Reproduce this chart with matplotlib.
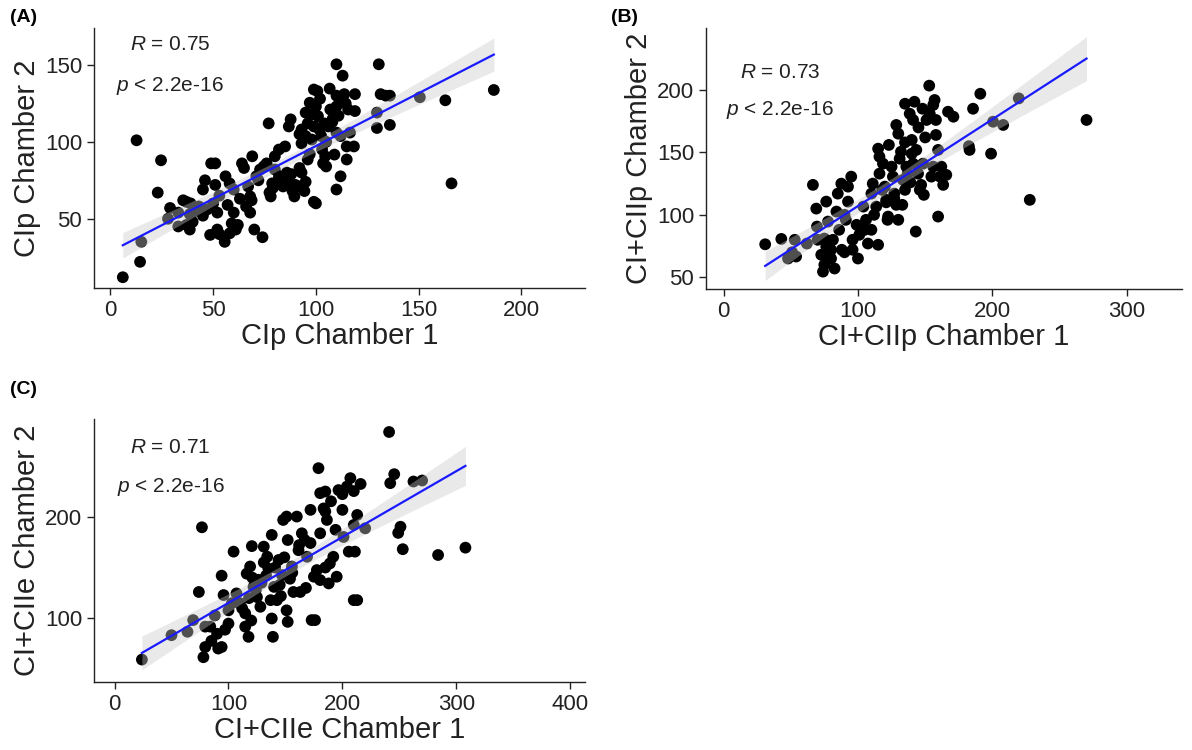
import numpy as np
import matplotlib
matplotlib.use("Agg")
import matplotlib.pyplot as plt

plt.rcParams['font.family'] = ['Liberation Sans', 'DejaVu Sans']
plt.rcParams['mathtext.fontset'] = 'custom'
plt.rcParams['mathtext.rm'] = 'Liberation Sans'
plt.rcParams['mathtext.it'] = 'Liberation Sans:italic'

# panel A: CIp chamber 1 vs chamber 2
a_x = [6, 14.4, 15, 12.7, 24.6, 23, 29, 28, 33, 35.4, 37, 39, 37, 38.6, 38.6, 46, 45, 49, 51,
       48.5, 52, 51, 52, 53, 56, 55.6, 58, 59, 60, 61, 58, 60, 64, 65, 67, 68, 69, 68.7, 68, 70,
       74, 71, 72.8, 74.6, 77, 76, 78.7, 77.4, 80, 82, 85, 80, 82, 84, 78, 86.8, 87.7, 85.8,
       86.8, 88.6, 89.5, 91.4, 93, 95, 94.4, 96, 93, 95, 93, 95, 97, 99, 100.7, 100, 101, 99,
       101.7, 102.6, 98, 104.5, 103.5, 105, 100, 99, 106.7, 110, 113, 110, 112, 113.8, 114.5,
       110, 115.7, 108, 106, 110, 112, 109, 115, 115, 118.5, 112, 110, 119, 119, 116.6, 130.6,
       131.5, 134, 136, 129.7, 129.7, 136, 150.6, 163, 166, 186.6, 50, 43, 41, 83, 88, 90, 92,
       97, 103, 105, 108, 63, 66, 72, 79, 57, 47,
       98, 102, 104, 107, 111, 96, 92, 40, 45, 53, 62, 33]
a_y = [12, 22, 35, 101, 88, 67, 57, 50, 54, 62, 61, 60, 46, 43, 53, 75, 69, 86, 86, 39.5, 43,
       72, 54, 65, 77.6, 35, 40.5, 47, 54, 43, 73, 69, 86, 83, 71, 64.5, 90.6, 62, 54, 43, 38,
       77.6, 82, 84, 112, 86, 73, 67, 90.6, 95, 97, 82, 77.6, 71, 64.5, 110, 114.6, 80, 74, 68,
       64.5, 71, 80, 74, 68, 88.5, 99, 103.7, 108, 119, 125.4, 134, 133, 123, 116.7, 110, 108,
       103.7, 101.5, 90.6, 86, 84, 60, 61, 134.6, 150.4, 143, 130, 127.6, 131, 125, 123, 121,
       114.6, 110, 106, 103.7, 91.7, 97, 88.5, 97, 77.6, 69, 131, 120, 106, 150.4, 131, 130,
       130, 119, 109, 111, 129, 127, 73, 133.7, 60, 58, 55, 76, 79, 72, 83, 92, 95, 100, 113,
       63, 58, 75, 70, 59, 56,
       118, 128, 112, 121, 117, 112, 105, 48, 52, 40, 46, 45]

# panel B: CI+CIIp chamber 1 vs chamber 2
b_x = [31, 43, 48, 53, 54, 51, 62, 66.5, 69, 69.5, 72.7, 74, 76.4, 77.7, 75, 76.4, 80, 82.6,
       81.4, 84, 85, 87.6, 86, 91, 92.6, 95, 92.6, 96, 100, 96, 101, 104, 106, 107.4, 111, 110,
       113.6, 115, 116, 115, 116, 118.6, 120, 121, 122.4, 123, 125, 126, 127, 128.5, 130,
       128.5, 130, 131, 132, 133.5, 135, 136, 137, 135, 138.5, 141, 142, 140, 141, 143.4,
       144.7, 143, 146, 148.4, 151, 153, 153.4, 156, 157, 158, 158, 159.6, 159.6, 156, 154.6,
       161, 163.4, 162, 165.7, 167, 171, 183, 182.5, 185.6, 191, 199, 200.5, 208, 219.6, 227.8,
       270, 149, 133, 122, 112, 105, 90, 99, 118, 127, 139, 147, 110, 88, 101, 121,
       140, 145, 150, 135, 148, 75, 80, 70, 90]
b_y = [76.4, 80.7, 65, 80, 66.6, 70, 77, 124, 105, 90.6, 68, 54.5, 110.6, 94.6, 81, 74.6, 65,
       57, 80, 102.6, 117, 125, 88, 96, 110.6, 130.6, 122.6, 80, 65, 72, 90.6, 106.6, 96, 77,
       125, 117, 106.6, 76, 133, 153, 146.6, 141, 122.6, 112, 98.6, 156, 138.6, 130.6, 117,
       108, 96, 172, 165, 145, 150.6, 128, 120, 138.6, 133, 189, 181, 176, 190.6, 149, 141,
       152, 133, 86.6, 120, 141, 176, 203.5, 181, 188, 192, 176, 164, 152, 98.6, 138.6, 130.6,
       130.6, 124, 138.6, 132, 182.6, 178.6, 152, 155, 185, 197, 149, 174.6, 172, 193.3, 112,
       176, 116, 108, 96, 100, 88, 100, 92, 120, 113, 126, 124, 88, 72, 84, 110,
       160, 170, 162, 158, 185, 60, 72, 80, 70]

# panel C: CI+CIIe chamber 1 vs chamber 2
c_x = [24, 50, 64, 69, 74, 76.7, 78, 79.6, 79.6, 84, 88, 91, 94, 94, 95.7, 97, 100, 104.5, 107,
       110, 114.7, 114.7, 117.6, 116, 119, 120.5, 122, 125, 126, 128, 131, 134, 135, 138, 138,
       139, 140, 142.5, 144, 147, 148, 151, 152, 151, 152, 154, 155.7, 157, 160, 161.5, 163,
       164.4, 167, 169, 172, 172, 173, 176, 175, 177.6, 179, 180.5, 180.5, 180.5, 183.5, 185,
       186.4, 188, 189, 192, 194, 195, 196.6, 200, 201, 204, 207, 205.6, 210, 211, 213, 210,
       213, 216, 220, 241, 242, 245.5, 251, 249, 253, 262.4, 270, 284, 308, 118, 124, 129,
       133, 137, 141, 145, 149, 156, 162, 168, 112, 121, 103, 185, 131, 146,
       190, 200, 185, 210, 100, 90, 120, 85]
c_y = [59.7, 83.6, 87, 98.4, 126, 189.5, 62, 72, 92, 92, 103, 70.5, 72, 142, 123, 89, 108,
       165.6, 124.6, 115, 105, 92, 82, 144, 151, 171, 131, 121, 138, 111.5, 170.5, 160.6, 149,
       182, 100, 82, 131, 118, 157.4, 142.6, 196.7, 200, 177, 108, 96.7, 139, 151, 126, 200,
       167, 126, 183.6, 177, 160.6, 174, 206.6, 98.4, 98.4, 141, 147.5, 247.5, 223, 183.6,
       137.7, 208, 224.6, 196.7, 134.4, 154, 160.6, 187, 141, 226, 206.6, 180, 229.5, 237.7,
       165.6, 191.8, 165.6, 201.6, 118, 118, 232, 188.5, 283, 232.8, 241.6, 190, 184, 168,
       234.4, 235.4, 162.3, 169.5, 120, 128, 135, 142, 118, 150, 133, 160, 145, 172, 130, 110,
       140, 115, 150, 155, 122,
       215, 222, 205, 225, 95, 85, 98, 78]

panels = [
    dict(tag="(A)", x=a_x, y=a_y, r="0.75", xlabel="CIp Chamber 1", ylabel="CIp Chamber 2",
         rect=[0.0789, 0.616, 0.4119, 0.3467], xlim=(-8, 231), ylim=(5, 174),
         xticks=[0, 50, 100, 150, 200], yticks=[50, 100, 150],
         rpos=(0.073, 0.935), ppos=(0.045, 0.777), tagpos=(0.008, 0.976)),
    dict(tag="(B)", x=b_x, y=b_y, r="0.73", xlabel="CI+CIIp Chamber 1", ylabel="CI+CIIp Chamber 2",
         rect=[0.5923, 0.6147, 0.3993, 0.348], xlim=(-13, 341), ylim=(40.6, 249.7),
         xticks=[0, 100, 200, 300], yticks=[50, 100, 150, 200],
         rpos=(0.071, 0.828), ppos=(0.042, 0.686), tagpos=(0.513, 0.976)),
    dict(tag="(C)", x=c_x, y=c_y, r="0.71", xlabel="CI+CIIe Chamber 1", ylabel="CI+CIIe Chamber 2",
         rect=[0.0789, 0.0907, 0.4119, 0.3507], xlim=(-18, 413), ylim=(37.7, 295.8),
         xticks=[0, 100, 200, 300, 400], yticks=[100, 200],
         rpos=(0.073, 0.89), ppos=(0.047, 0.741), tagpos=(0.008, 0.48)),
]

fig = plt.figure(figsize=(11.92, 7.5), dpi=100)

for p in panels:
    ax = fig.add_axes(p["rect"])
    x = np.array(p["x"], dtype=float)
    y = np.array(p["y"], dtype=float)

    ax.scatter(x, y, s=72, color='black', edgecolors='none', zorder=2)

    # linear fit with 95% confidence band
    slope, icpt = np.polyfit(x, y, 1)
    n = len(x)
    resid = y - (slope * x + icpt)
    s_err = np.sqrt(np.sum(resid ** 2) / (n - 2))
    xs = np.linspace(x.min(), x.max(), 200)
    ys = slope * xs + icpt
    se = s_err * np.sqrt(1 / n + (xs - x.mean()) ** 2 / np.sum((x - x.mean()) ** 2))
    ax.fill_between(xs, ys - 1.98 * se, ys + 1.98 * se, color='#c8c8c8', alpha=0.4,
                    linewidth=0, zorder=3)
    ax.plot(xs, ys, color='#1a1aff', linewidth=1.6, zorder=4)

    ax.set_xlim(*p["xlim"])
    ax.set_ylim(*p["ylim"])
    ax.set_xticks(p["xticks"])
    ax.set_yticks(p["yticks"])
    ax.spines['top'].set_visible(False)
    ax.spines['right'].set_visible(False)
    for sp in ['left', 'bottom']:
        ax.spines[sp].set_linewidth(1.0)
        ax.spines[sp].set_color('#222222')
    ax.tick_params(labelsize=16, length=5, width=1, color='#222222', labelcolor='#222222')
    ax.set_xlabel(p["xlabel"], fontsize=21, color='#222222', labelpad=1)
    ax.set_ylabel(p["ylabel"], fontsize=21, color='#222222', labelpad=3)

    ax.text(p["rpos"][0], p["rpos"][1], "$R$ = " + p["r"], transform=ax.transAxes,
            fontsize=15, ha='left', va='center', color='#222222')
    ax.text(p["ppos"][0], p["ppos"][1], "$p$ < 2.2e-16", transform=ax.transAxes,
            fontsize=15, ha='left', va='center', color='#222222')

    fig.text(p["tagpos"][0], p["tagpos"][1], p["tag"], fontsize=14, fontweight='bold',
             ha='left', va='center')

fig.savefig("out.png", dpi=100)
